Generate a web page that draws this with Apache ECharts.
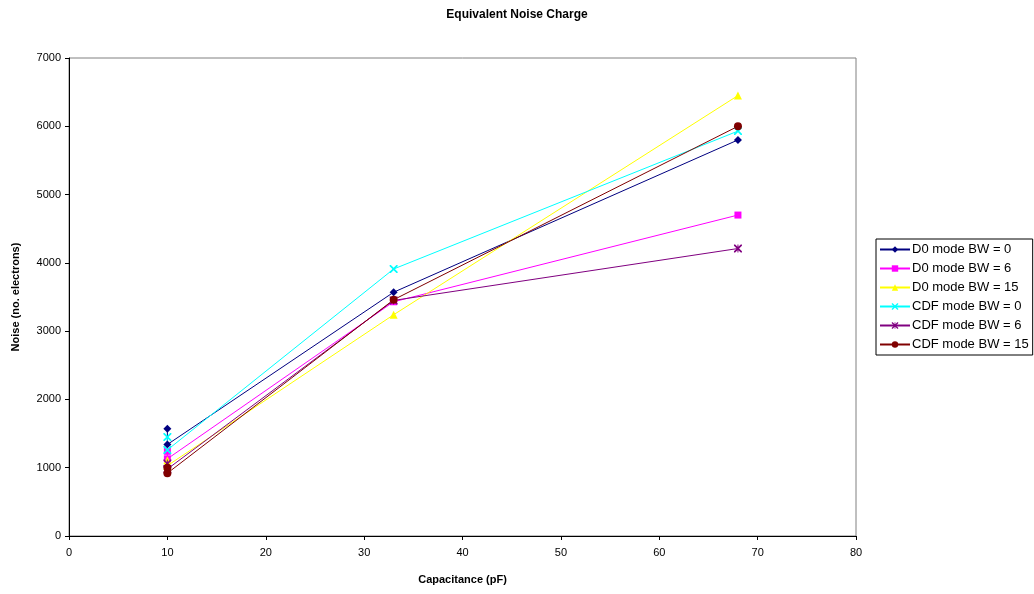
<!DOCTYPE html>
<html lang="en">
<head>
    <meta charset="utf-8"/>
    <title>Equivalent Noise Charge</title>
    <script src="https://cdn.jsdelivr.net/npm/echarts@6/dist/echarts.min.js"></script>
    <style>
        html, body { margin: 0; padding: 0; background: #fff; }
        #chart { width: 1034px; height: 594px; }
    </style>
</head>
<body>
<div id="chart"></div>
<script>
    // capacitance (pF) for each measured point
    const capacitance = [10, 10, 33, 68];

    // noise in electrons, one array per series
    const d0Bw0 = [1570, 1340, 3570, 5800];
    const d0Bw6 = [1240, 1130, 3430, 4700];
    const d0Bw15 = [1110, 1030, 3240, 6450];
    const cdfBw0 = [1450, 1260, 3910, 5930];
    const cdfBw6 = [1060, 980, 3450, 4210];
    const cdfBw15 = [1000, 920, 3460, 6000];

    const seriesNames = ['D0 mode BW = 0', 'D0 mode BW = 6', 'D0 mode BW = 15',
        'CDF mode BW = 0', 'CDF mode BW = 6', 'CDF mode BW = 15'];

    const crossPath = 'path://M0,0L1.5,0L5,3.5L8.5,0L10,0L10,1.5L6.5,5L10,8.5L10,10L8.5,10L5,6.5L1.5,10L0,10L0,8.5L3.5,5L0,1.5Z';
    const starPath = 'path://M0,0L1.5,0L4.4,2.9L4.4,0L5.6,0L5.6,2.9L8.5,0L10,0L10,1.5L6.5,5L10,8.5L10,10L8.5,10L5.6,7.1L5.6,10L4.4,10L4.4,7.1L1.5,10L0,10L0,8.5L3.5,5L0,1.5Z';

    function pairs(values) {
        return values.map(function (v, i) { return [capacitance[i], v]; });
    }

    function line(name, values, color, symbol, size) {
        return {
            name: name,
            type: 'line',
            data: pairs(values),
            symbol: symbol,
            symbolSize: size,
            showAllSymbol: true,
            animation: false,
            itemStyle: { color: color },
            lineStyle: { color: color, width: 1 }
        };
    }

    const chart = echarts.init(document.getElementById('chart'));
    const font = 'Liberation Sans, Arial, sans-serif';

    const option = {
        backgroundColor: '#fff',
        textStyle: { fontFamily: font },
        title: {
            text: 'Equivalent Noise Charge',
            left: 'center',
            top: 4,
            textStyle: { fontFamily: font, fontSize: 12, fontWeight: 'bold', color: '#000' }
        },
        grid: {
            left: 69, right: 178, top: 58, bottom: 58,
            show: true, borderColor: '#808080', borderWidth: 1
        },
        legend: {
            orient: 'vertical',
            left: 876, top: 239,
            data: seriesNames,
            backgroundColor: '#fff',
            borderColor: '#000', borderWidth: 1,
            padding: [3, 4, 3, 3],
            itemWidth: 30, itemHeight: 8, itemGap: 4,
            textStyle: { fontFamily: font, fontSize: 13, color: '#000', padding: [0, 0, 0, -3], lineHeight: 15 }
        },
        xAxis: {
            type: 'value',
            min: 0, max: 80, interval: 10,
            name: 'Capacitance (pF)',
            nameLocation: 'middle',
            nameGap: 38,
            nameTextStyle: { fontFamily: font, fontSize: 11, fontWeight: 'bold', color: '#000' },
            axisLine: { lineStyle: { color: '#000' } },
            axisTick: { show: true, length: 4, lineStyle: { color: '#000' } },
            axisLabel: { fontFamily: font, fontSize: 11, color: '#000', margin: 11 },
            splitLine: { show: false }
        },
        yAxis: {
            type: 'value',
            min: 0, max: 7000, interval: 1000,
            name: 'Noise (no. electrons)',
            nameLocation: 'middle',
            nameGap: 48,
            nameTextStyle: { fontFamily: font, fontSize: 11, fontWeight: 'bold', color: '#000' },
            axisLine: { show: true, lineStyle: { color: '#000' } },
            axisTick: { show: true, length: 4, lineStyle: { color: '#000' } },
            axisLabel: { fontFamily: font, fontSize: 11, color: '#000', margin: 8, formatter: function (v) { return String(v); } },
            splitLine: { show: false }
        },
        series: [
            line(seriesNames[0], d0Bw0, '#000080', 'diamond', 8),
            line(seriesNames[1], d0Bw6, '#FF00FF', 'rect', 7),
            line(seriesNames[2], d0Bw15, '#FFFF00', 'triangle', 8),
            line(seriesNames[3], cdfBw0, '#00FFFF', crossPath, 8),
            line(seriesNames[4], cdfBw6, '#800080', starPath, 8),
            line(seriesNames[5], cdfBw15, '#800000', 'circle', 8)
        ]
    };
    chart.setOption(option);
</script>
</body>
</html>
